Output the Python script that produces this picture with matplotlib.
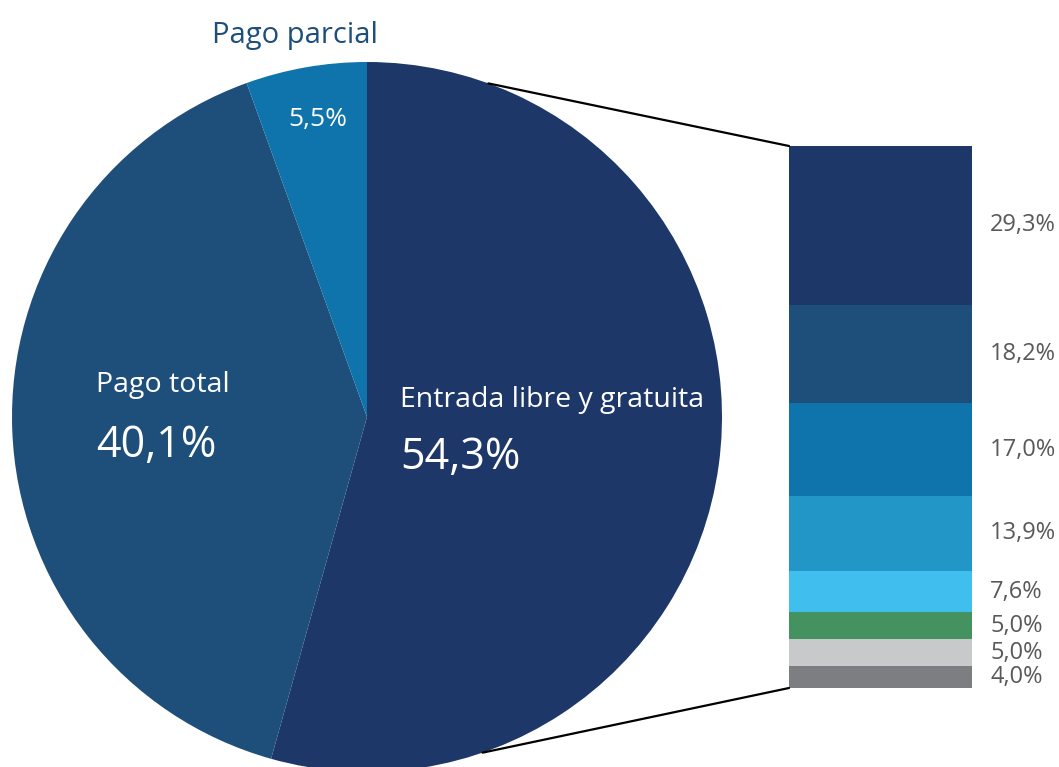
import matplotlib.pyplot as plt
from matplotlib.patches import ConnectionPatch
from matplotlib import transforms
import numpy as np

plt.rcParams['font.family'] = ['Open Sans', 'DejaVu Sans']

# pie data
pie_labels = ['Entrada libre y gratuita', 'Pago total', 'Pago parcial']
pie_values = [54.3, 40.1, 5.5]
pie_colors = ['#1d3768', '#1e4f7b', '#0e74ab']

# breakdown of "Entrada libre y gratuita"
bar_values = [29.3, 18.2, 17.0, 13.9, 7.6, 5.0, 5.0, 4.0]
bar_labels = ['29,3%', '18,2%', '17,0%', '13,9%', '7,6%', '5,0%', '5,0%', '4,0%']
bar_colors = ['#1d3768', '#1e4f7b', '#0e74ab', '#2196c7', '#40bfee',
              '#439260', '#c8c9cb', '#7d7e82']

W, H = 1059, 767
fig = plt.figure(figsize=(W / 100, H / 100), dpi=100)
ax = fig.add_axes([0, 0, 1, 1])

cx, cy, r = 367, 350, 355
ax.pie(pie_values, colors=pie_colors, startangle=90, counterclock=False,
       center=(cx, cy), radius=r, wedgeprops=dict(linewidth=0))
ax.set_xlim(0, W)
ax.set_ylim(0, H)
ax.set_aspect('equal')
ax.axis('off')

ax.text(212, 724, 'Pago parcial', color='#1e4f7b', fontsize=21, ha='left', va='baseline')
ax.text(288, 641, '5,5%', color='white', fontsize=19, ha='left', va='baseline')
ax.text(96, 375, 'Pago total', color='white', fontsize=20.5, ha='left', va='baseline')
ax.text(96, 310, '40,1%', color='white', fontsize=31, ha='left', va='baseline')
ax.text(400, 360, 'Entrada libre y gratuita', color='white', fontsize=20.5, ha='left', va='baseline')
ax.text(400, 298, '54,3%', color='white', fontsize=31, ha='left', va='baseline')

# stacked bar
bx0, bx1, by0, by1 = 789, 972, 146, 688
ax2 = fig.add_axes([bx0 / W, (H - by1) / H, (bx1 - bx0) / W, (by1 - by0) / H])
bottoms = np.concatenate([[0], np.cumsum(bar_values)[:-1]])
ax2.bar(0, bar_values, bottom=bottoms, width=1, color=bar_colors, linewidth=0)
ax2.set_xlim(-0.5, 0.5)
ax2.set_ylim(100, 0)
ax2.axis('off')

trans = transforms.blended_transform_factory(ax2.transAxes, ax2.transData)
for b, v, lab in zip(bottoms, bar_values, bar_labels):
    ax2.text(1.1, b + v / 2, lab, transform=trans, color='#58595b',
             fontsize=17, ha='left', va='center')

# connector lines
for ang, yb in [(70, 0), (-71, 1)]:
    t = np.deg2rad(ang)
    xa, ya = cx + r * np.cos(t), cy + r * np.sin(t)
    con = ConnectionPatch(xyA=(xa, ya), coordsA=ax.transData,
                          xyB=(0, 1 - yb), coordsB=ax2.transAxes,
                          color='black', linewidth=1.6)
    fig.add_artist(con)

fig.savefig('out.png', dpi=100)
